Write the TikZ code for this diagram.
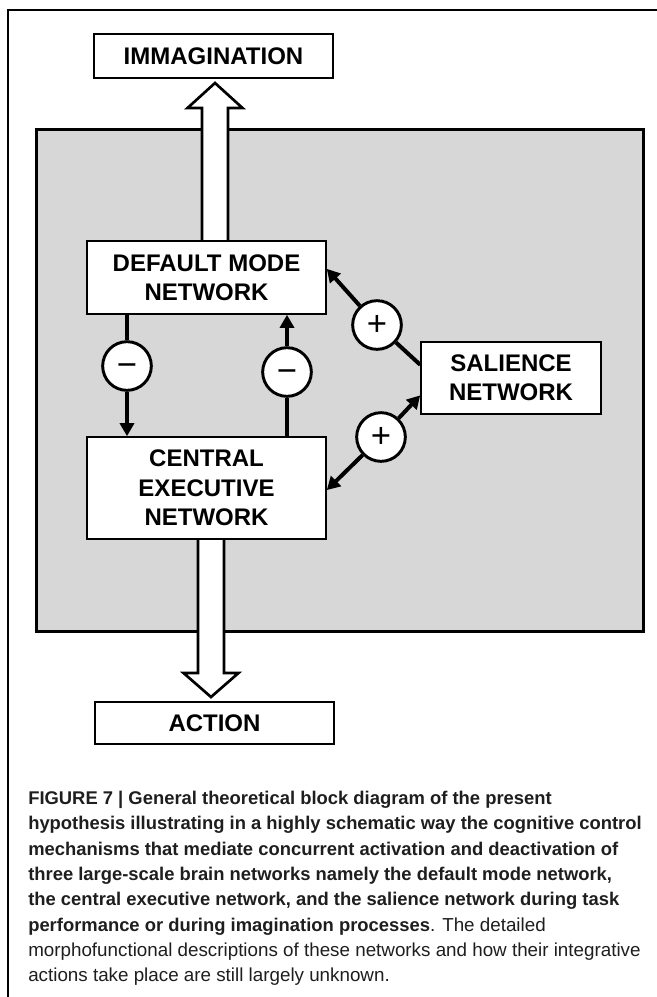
\documentclass[tikz,border=0pt]{standalone}
\usepackage{fontspec}
\setmainfont{Liberation Sans}
\usetikzlibrary{arrows.meta,calc}
\definecolor{panelgray}{RGB}{215,215,215}
\definecolor{captext}{RGB}{30,30,30}
\newcommand{\capb}{\fontsize{13.8}{19}\selectfont\bfseries}

\begin{document}
\begin{tikzpicture}[x=0.75pt,y=-0.75pt,
  box/.style={draw=black, line width=1.2pt, fill=white, inner sep=0pt,
    align=center, font=\bfseries\fontsize{18}{22}\selectfont},
  sign/.style={circle, draw=black, line width=2.2pt, fill=white, inner sep=0pt,
    minimum size=36.5pt, font=\fontsize{26}{26}\selectfont},
  conn/.style={line width=3pt},
  headtip/.style={-{Triangle[length=9.75pt,width=10.5pt]}},
  hollow/.style={draw=black, fill=white, line width=2pt, line join=miter},
  captionline/.style={anchor=base west, inner sep=0pt, text=captext,
    font=\fontsize{14.1}{19}\selectfont}]

\useasboundingbox (0,0) rectangle (657,997);

% outer frame: top and left rules
\draw[line width=1.5pt] (657,9.5) -- (7.5,9.5) -- (7.5,997);

% grey panel holding the three networks
\draw[fill=panelgray, line width=2.25pt] (36,129) rectangle (643,631);

% hollow arrows leaving the panel
\draw[hollow] (202,245) -- (202,108) -- (187.5,108) -- (215,83)
  -- (242.5,108) -- (228,108) -- (228,245);
\draw[hollow] (198,535) -- (198,673) -- (183.5,673) -- (211,697)
  -- (238.5,673) -- (224,673) -- (224,535);

% blocks
\node[box, minimum width=179.25pt, minimum height=33pt] (imm) at (213.5,56) {IMMAGINATION};
\node[box, minimum width=179.25pt, minimum height=54.75pt] (dmn) at (206.5,277.5) {DEFAULT MODE\\NETWORK};
\node[box, minimum width=179.25pt, minimum height=76.5pt] (cen) at (206.5,488) {CENTRAL\\EXECUTIVE\\NETWORK};
\node[box, minimum width=135pt, minimum height=54pt] (sal) at (511,378) {SALIENCE\\NETWORK};
\node[box, minimum width=179.25pt, minimum height=31.5pt] (act) at (214.5,723) {ACTION};

% inhibitory / excitatory junctions
\node[sign] (m1) at (127,366) {\vphantom{+}−};
\node[sign] (m2) at (287,372) {\vphantom{+}−};
\node[sign] (p1) at (377,325) {+};
\node[sign] (p2) at (381,437) {+};

% attachment points on the block borders
\coordinate (dmnR) at ($(dmn.north east)!0.384!(dmn.south east)$);
\coordinate (cenR) at ($(cen.north east)!0.52!(cen.south east)$);
\coordinate (salA) at ($(sal.north west)!0.32!(sal.south west)$);
\coordinate (salB) at ($(sal.north west)!0.736!(sal.south west)$);

% DMN -> CEN and CEN -> DMN through the minus junctions
\draw[conn] (dmn.south -| m1) -- (m1);
\draw[conn, headtip] (m1) -- (cen.north -| m1);
\draw[conn] (cen.north -| m2) -- (m2);
\draw[conn, headtip] (m2) -- (dmn.south -| m2);

% salience network to both through the plus junctions
\draw[conn] (salA) -- (p1);
\draw[conn, headtip] (p1) -- (dmnR);
\draw[conn, headtip] (p2) -- (salB);
\draw[conn, headtip] (p2) -- (cenR);

% caption
\node[captionline] (c1) at (28,804.5) {\capb FIGURE 7 | General theoretical block diagram of the present};
\node[captionline] (c2) at (28,829.8) {\capb hypothesis illustrating in a highly schematic way the cognitive control};
\node[captionline] (c3) at (28,855.1) {\capb mechanisms that mediate concurrent activation and deactivation of};
\node[captionline] (c4) at (28,880.4) {\capb three large-scale brain networks namely the default mode network,};
\node[captionline] (c5) at (28,905.7) {\capb the central executive network, and the salience network during task};
\node[captionline] (c6) at (28,931) {{\capb performance or during imagination processes}. The detailed};
\node[captionline] (c7) at (28,956.3) {morphofunctional descriptions of these networks and how their integrative};
\node[captionline] (c8) at (28,981.6) {actions take place are still largely unknown.};
\end{tikzpicture}
\end{document}
